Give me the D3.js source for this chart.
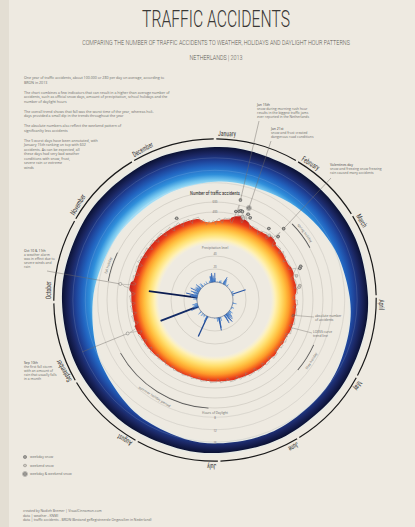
<!DOCTYPE html>
<html>
<head>
<meta charset="utf-8">
<script src="https://cdn.jsdelivr.net/npm/d3@7"></script>
<style>
  html, body { margin: 0; padding: 0; background: #eeeae1; }
  svg { display: block; }
  .cond { font-family: "Roboto Condensed", "Liberation Sans Narrow", "Roboto", sans-serif; }
  .light { font-family: "Roboto", "Open Sans", sans-serif; font-weight: 300; }
  .small { font-family: "Open Sans", "Roboto", sans-serif; fill: #6a6a6a; }
</style>
</head>
<body>
<svg id="chart" width="415" height="527"></svg>
<script>
// ---- data (2013) ----
const months = ['January', 'February', 'March', 'April', 'May', 'June', 'July', 'August', 'September', 'October', 'November', 'December'];
const monthDays = [31, 28, 31, 30, 31, 30, 31, 31, 30, 31, 30, 31];

// daily number of traffic accidents, per month
const accJan = [150,240,265,270,215,180,285,290,280,295,300,230,210,360,602,380,400,390,300,270,500,380,340,330,320,260,220,300,295,290,300];
const accFeb = [300,240,200,300,310,320,330,340,250,230,330,360,320,520,330,240,210,280,290,300,295,310,250,220,320,300,290,295];
const accMar = [300,240,200,290,285,290,280,295,235,230,380,350,320,300,305,240,210,290,295,300,290,310,260,240,310,295,290,300,260,220,190];
const accApr = [190,290,285,290,300,230,200,285,280,290,285,300,235,205,280,285,290,295,305,240,210,285,280,290,285,300,230,200,270,210];
const accMay = [270,275,285,220,195,275,270,280,200,250,225,200,280,285,290,285,300,235,200,205,285,290,295,300,240,210,290,295,290,300,305];
const accJun = [245,215,290,285,290,295,310,250,220,290,285,280,290,305,245,225,290,295,300,300,310,250,220,285,280,285,290,305,245,215];
const accJul = [285,280,285,290,300,245,220,275,270,275,280,290,240,215,265,260,265,270,280,235,210,260,255,260,265,275,240,230,255,250,255];
const accAug = [260,270,225,205,255,250,255,260,270,225,205,260,255,260,265,275,230,210,275,280,285,290,300,240,215,295,300,305,300,315,250];
const accSep = [220,310,305,310,315,325,255,225,320,470,330,325,335,265,235,320,325,320,330,340,260,230,320,315,320,325,340,265,235,330];
const accOct = [330,335,340,350,270,240,340,345,350,480,520,280,250,330,325,330,335,345,265,235,325,330,335,340,350,270,245,370,345,340,345];
const accNov = [355,275,245,345,340,345,350,360,280,245,345,340,345,350,365,280,250,345,340,350,345,360,275,245,335,340,335,340,355,270];
const accDec = [240,330,325,330,350,345,270,240,325,330,325,330,345,270,235,320,315,320,325,330,250,215,270,240,150,170,220,195,180,230,220];

// daily precipitation (mm), per month
const rainJan = [6,0,0.5,0,0,0.3,0,1,0,0,0,0,0,2,3,0.5,1,4,2,0,1,0.5,0,0,0,0,5,8,12,6,9];
const rainFeb = [4,6,1,3,2,0,0.5,0,1,3,4,0,0,1,0,0,0,0,0,0,0,0,0,0,0.5,0,0,0];
const rainMar = [0,0,0,0,0,0.5,3,4,2,1,0,0,0.5,22,0,0,0,3,2,0,0,0,0,0,0,0,0,0,0,0,0];
const rainApr = [0,0,0,0,0,0,0,0,0,0,2,6,1,0,0,0,0.5,1,0,0,0,0,0,0,3,4,0.5,0,1,2];
const rainMay = [0,0,0,0,0,0,0,2,6,3,1,4,5,0,2,8,10,5,3,12,6,8,4,15,12,9,0,0,6,11,14];
const rainJun = [4,0,0,0,0,0,0,0,0,0,0,0,1,6,3,0,0,8,16,20,6,2,1,0.5,6,1,0,0,0,0];
const rainJul = [0,0.5,1,0,0,0,0,0,0,0,0,0,0,0,0,0,0,0,0,0,0,0,0,3,0,0,34,10,9,2,0];
const rainAug = [0,0,0,0,4,2,0,0,3,0,0,1,5,2,0,0,0,0,0,2,6,3,0,0,0,0,0,0,0,0,0];
const rainSep = [0,0,0,0,0,1,12,3,8,62,6,9,4,3,7,5,2,0,8,4,0,0,0,0,0,0,0,0,1,0];
const rainOct = [0,0,2,6,1,0,1,2,75,10,6,12,9,3,18,4,0,6,1,2,8,12,4,6,2,0,4,14,3,5,8];
const rainNov = [2,6,5,8,3,4,7,2,4,10,6,1,0,0,0,2,6,1,4,6,2,0,0,0,0,0,0,3,2,0];
const rainDec = [0,0,0,0,4,1,0,0,0,0,0,0,0,2,3,1,2,4,9,10,6,8,12,14,7,4,10,6,4,3,14];

// hours of daylight
const daylightDates = ['01-01','01-15','02-01','02-15','03-01','03-15','04-01','04-15','05-01','05-15','06-01','06-15',
                       '07-01','07-15','08-01','08-15','09-01','09-15','10-01','10-15','11-01','11-15','12-01','12-15'];
const daylightHours = [8.3, 8.6, 9.2, 10.2, 11.3, 12.4, 13.6, 14.5, 15.4, 15.9, 16.3, 16.5,
                       16.4, 16.0, 15.0, 13.8, 12.3, 10.9, 9.6, 8.6, 7.9, 7.5, 7.5, 7.8];

// official snow days (0 weekday, 1 weekend, 2 weekday & weekend)
const snowDates = ['01-14','01-15','01-16','01-17','01-18','01-19','01-20','01-21','01-22','01-24','02-07','02-10','02-14','02-15','03-11','03-12','03-16','03-23','03-24','12-06'];
const snowTypes = [0,0,0,0,0,1,1,2,0,0,0,1,0,0,0,0,1,1,1,0];

// school holidays
const holidayNames = ['spring holiday', 'May holiday', 'summer holiday period', 'fall holiday'];
const holidayStart = ['02-16', '04-27', '07-06', '10-12'];
const holidayEnd = ['03-03', '05-12', '09-01', '10-27'];

// annotated worst days
const annoDates = ['01-15', '01-21', '02-14', '10-11', '09-10'];
const annoTitles = ['Jan 15th', 'Jan 21st', 'Valentines day', 'Oct 10 & 11th', 'Sep 10th'];
const annoTexts = [
  ['snow during morning rush hour', 'results in the biggest traffic jams', 'ever reported in the Netherlands'],
  ['snow and frost created', 'dangerous road conditions'],
  ['snow and freezing snow freezing', 'rain caused many accidents'],
  ['a weather alarm', 'was in effect due to', 'severe winds and', 'rain'],
  ['the first fall storm', 'with an amount of', 'rain that usually falls', 'in a month']
];

const introText = [
  ['One year of traffic accidents, about 100.000 or 280 per day on average, according to', 'BRON in 2013'],
  ['The chart combines a few indicators that can result in a higher than average number of', 'accidents, such as official snow days, amount of precipitation, school holidays and the', 'number of daylight hours'],
  ['The overall trend shows that fall was the worst time of the year, whereas holi-', 'days provided a small dip in the trends throughout the year'],
  ['The absolute numbers also reflect the weekend pattern of', 'significanlty less accidents'],
  ['The 5 worst days have been annotated, with', 'January 15th ranking on top with 602', 'accidents. As can be expected, all', 'these days had very bad weather', 'conditions with snow, frost,', 'severe rain or extreme', 'winds']
];
const legendLabels = ['weekday snow', 'weekend snow', 'weekday & weekend snow'];
const credits = ['created by Nadieh Bremer | VisualCinnamon.com', 'data | weather - KNMI', 'data | traffic accidents - BRON (Bestand geRegistreerde Ongevallen in Nederland)'];

// ---- setup ----
const accidents = [].concat(accJan, accFeb, accMar, accApr, accMay, accJun, accJul, accAug, accSep, accOct, accNov, accDec);
const rain = [].concat(rainJan, rainFeb, rainMar, rainApr, rainMay, rainJun, rainJul, rainAug, rainSep, rainOct, rainNov, rainDec);
const nDays = accidents.length;

const parse = d3.timeParse('%Y-%m-%d');
const yearStart = new Date(2013, 0, 1);
const doy = s => d3.timeDay.count(yearStart, parse('2013-' + s));

const cx = 215, cy = 300;
const aScale = d3.scaleLinear().domain([0, 365]).range([0, 2 * Math.PI]);
const rScale = d3.scaleLinear().domain([0, 600]).range([68, 98]);
const pScale = d3.scaleLinear().domain([0, 40]).range([18, 44]);
const hScale = d3.scaleLinear().domain([0, 24]).range([92.5, 167]);
const bandOuter = 153;
const rainColor = d3.scaleLinear().domain([0, 15, 60]).range(['#5b9be0', '#2a5cb0', '#132c68']);

function pt(a, r) { return [r * Math.sin(a), -r * Math.cos(a)]; }
const deg = a => a * 180 / Math.PI;

// squeeze a centered text to a given width
function fitText(sel, x, y, width) {
  const w = sel.node().getComputedTextLength();
  sel.attr('text-anchor', 'middle').attr('transform', `translate(${x},${y}) scale(${width / w},1)`);
}

// 7 day centered trend (year wraps)
const trend = accidents.map((d, i) => d3.mean(d3.range(-3, 4), k => accidents[(i + k + nDays) % nDays]));

const svg = d3.select('#chart');
svg.append('rect').attr('width', 415).attr('height', 527).attr('fill', '#eeeae1');
svg.append('rect').attr('x', 0).attr('y', 0).attr('width', 9).attr('height', 527).attr('fill', '#e3ded3');

const defs = svg.append('defs');
let bg = defs.append('radialGradient').attr('id', 'blueGrad').attr('gradientUnits', 'userSpaceOnUse')
  .attr('cx', 0).attr('cy', 0).attr('r', bandOuter);
[[0.75, '#b8e7f8'], [0.785, '#74c6ef'], [0.82, '#2f8fdb'], [0.87, '#2264c0'], [0.915, '#1e3f94'], [0.955, '#1b2764'], [1, '#0b1133']]
  .forEach(s => bg.append('stop').attr('offset', s[0]).attr('stop-color', s[1]));
let ag = defs.append('radialGradient').attr('id', 'accGrad').attr('gradientUnits', 'userSpaceOnUse')
  .attr('cx', 0).attr('cy', 0).attr('r', 98);
[[0.57, '#fff6d0', 0], [0.62, '#fff0b0', 1], [0.67, '#ffe070', 1], [0.72, '#ffc040', 1], [0.76, '#fd9a2a', 1], [0.79, '#f66a20', 1], [0.82, '#e63a1c', 1], [0.87, '#c9221a', 1], [1, '#b3151a', 1]]
  .forEach(s => ag.append('stop').attr('offset', s[0]).attr('stop-color', s[1]).attr('stop-opacity', s[2]));
defs.append('filter').attr('id', 'glow').attr('x', '-20%').attr('y', '-20%').attr('width', '140%').attr('height', '140%')
  .append('feGaussianBlur').attr('stdDeviation', 1.6);

const g = svg.append('g').attr('transform', `translate(${cx},${cy})`);

// grey grid circles
const gridR = [pScale(20), pScale(40), rScale(400), rScale(600), 108].concat([8, 12, 16].map(h => hScale(h)));
g.selectAll('circle.grid').data(gridR).join('circle').attr('class', 'grid')
  .attr('r', d => d).attr('fill', 'none').attr('stroke', '#b9b5ad').attr('stroke-width', 0.45);

// blue band (hours of darkness)
const dayPts = daylightDates.map((d, i) => ({ day: doy(d), h: daylightHours[i] }));
const band = d3.areaRadial()
  .angle(d => aScale(d.day))
  .innerRadius(d => hScale(d.h))
  .outerRadius(bandOuter)
  .curve(d3.curveCardinalClosed);
g.append('path').attr('d', band(dayPts)).attr('fill', '#cdeaf6').attr('opacity', 0.6).attr('filter', 'url(#glow)');
g.append('path').attr('d', band(dayPts)).attr('fill', 'url(#blueGrad)');
g.selectAll('circle.dl').data([8, 12, 16]).join('circle').attr('class', 'dl')
  .attr('r', d => hScale(d)).attr('fill', 'none').attr('stroke', '#ffffff').attr('stroke-opacity', 0.3).attr('stroke-width', 0.4);

// month ring
const monthStart = d3.cumsum([0].concat(monthDays)).slice(0, 12);
const monthArc = d3.arc().innerRadius(160.6).outerRadius(161.8);
g.selectAll('path.month').data(months).join('path').attr('class', 'month')
  .attr('d', (m, i) => monthArc({ startAngle: aScale(monthStart[i]) + 0.008, endAngle: aScale(monthStart[i] + monthDays[i]) - 0.008 }))
  .attr('fill', '#1a1a1a');
g.selectAll('text.month').data(months).join('text').attr('class', 'month cond')
  .attr('transform', (m, i) => {
    const a = aScale(monthStart[i]) + 0.018;
    const p = pt(a, 164);
    return `translate(${p[0]},${p[1]}) rotate(${deg(a)}) scale(0.75,1)`;
  })
  .attr('font-size', 7.6).attr('fill', '#3a3a3a').text(m => m);

// school holidays
const holArc = d3.arc().innerRadius(108).outerRadius(108.8);
holidayNames.forEach((name, i) => {
  const a0 = aScale(doy(holidayStart[i])), a1 = aScale(doy(holidayEnd[i]) + 1);
  g.append('path').attr('d', holArc({ startAngle: a0, endAngle: a1 })).attr('fill', '#555');
  const am = (a0 + a1) / 2;
  const flip = am > Math.PI / 2 && am < 3 * Math.PI / 2;
  const p = pt(am, flip ? 112.5 : 111);
  g.append('text').attr('class', 'small')
    .attr('transform', `translate(${p[0]},${p[1]}) rotate(${deg(am) + (flip ? 180 : 0)})`)
    .attr('text-anchor', 'middle').attr('dy', flip ? '0.8em' : '0em')
    .attr('font-size', 3.4).attr('fill', '#555').text(name);
});

// accidents: trend area and daily line
const area = d3.areaRadial()
  .angle((d, i) => aScale(i + 0.5))
  .innerRadius(56)
  .outerRadius(d => rScale(d))
  .curve(d3.curveCatmullRomClosed);
g.append('path').attr('d', area(trend)).attr('fill', 'url(#accGrad)');
const line = d3.lineRadial()
  .angle((d, i) => aScale(i + 0.5))
  .radius(d => rScale(d))
  .curve(d3.curveLinearClosed);
g.append('path').attr('d', line(accidents)).attr('fill', 'none').attr('stroke', '#8a8580').attr('stroke-width', 0.4);

// precipitation
g.selectAll('line.rain').data(rain.map((v, i) => ({ v, i })).filter(d => d.v > 0)).join('line').attr('class', 'rain')
  .attr('x1', d => pt(aScale(d.i + 0.5), pScale(0))[0]).attr('y1', d => pt(aScale(d.i + 0.5), pScale(0))[1])
  .attr('x2', d => pt(aScale(d.i + 0.5), pScale(d.v))[0]).attr('y2', d => pt(aScale(d.i + 0.5), pScale(d.v))[1])
  .attr('stroke', d => rainColor(d.v)).attr('stroke-width', d => 0.6 + Math.min(d.v, 60) / 50);
g.append('circle').attr('r', pScale(0)).attr('fill', 'none').attr('stroke', '#3b4a6e').attr('stroke-width', 0.5);

// axis labels inside
const accTitle = g.append('text').attr('class', 'cond').attr('font-size', 6).attr('fill', '#333').text('Number of traffic accidents');
fitText(accTitle, 0, -105, 50);
[400, 600].forEach(v => g.append('text').attr('class', 'small').attr('x', 0).attr('y', -rScale(v) + 1.2)
  .attr('text-anchor', 'middle').attr('font-size', 2.8).text(v));
g.append('text').attr('class', 'small').attr('x', 0).attr('y', -51).attr('text-anchor', 'middle')
  .attr('font-size', 3.2).attr('fill', '#555').text('Precipitation level');
[20, 40].forEach(v => g.append('text').attr('class', 'small').attr('x', 0).attr('y', -pScale(v) - 1.2)
  .attr('text-anchor', 'middle').attr('font-size', 2.8).text(v));
g.append('text').attr('class', 'small').attr('x', 0).attr('y', 114).attr('text-anchor', 'middle')
  .attr('font-size', 3.2).attr('fill', '#555').text('Hours of Daylight');
[8, 12, 16].forEach(h => g.append('text').attr('class', 'small').attr('x', 0).attr('y', hScale(h) + 2)
  .attr('text-anchor', 'middle').attr('font-size', 2.8).text(h));

// snow markers
const asterisk = d3.symbol().type(d3.symbolAsterisk).size(9);
snowDates.forEach((s, i) => {
  const day = doy(s);
  const p = pt(aScale(day + 0.5), rScale(accidents[day]) + 5);
  const mg = g.append('g').attr('transform', `translate(${p[0]},${p[1]})`);
  mg.append('circle').attr('r', 1.8).attr('fill', snowTypes[i] === 1 ? '#9a9690' : '#4a4a4a');
  mg.append('path').attr('d', asterisk()).attr('stroke', '#eeeae1').attr('stroke-width', 0.4);
  if (snowTypes[i] === 2) mg.append('circle').attr('r', 2.5).attr('fill', 'none').attr('stroke', '#4a4a4a').attr('stroke-width', 0.35);
});

// annotations
const annoPos = [[257, 106], [271, 130], [330, 166], [24, 252], [24, 364]];
const annoLead = [[259, 121], [271, 141], [331, 178], [47, 271], [82, 352]];
annoDates.forEach((s, i) => {
  const day = doy(s);
  const isSnow = snowDates.includes(s);
  const p = pt(aScale(day + 0.5), rScale(accidents[day]) + (isSnow ? 5 : 2));
  svg.append('line').attr('x1', annoLead[i][0]).attr('y1', annoLead[i][1])
    .attr('x2', cx + p[0]).attr('y2', cy + p[1]).attr('stroke', '#6f6b66').attr('stroke-width', 0.45);
  if (!isSnow) {
    svg.append('circle').attr('cx', cx + p[0]).attr('cy', cy + p[1]).attr('r', 1.5)
      .attr('fill', '#eeeae1').attr('stroke', '#555').attr('stroke-width', 0.4);
  }
  const t = svg.append('text').attr('class', 'small').attr('x', annoPos[i][0]).attr('y', annoPos[i][1]).attr('font-size', 3.4);
  t.append('tspan').attr('x', annoPos[i][0]).attr('fill', '#444').text(annoTitles[i]);
  annoTexts[i].forEach(l => t.append('tspan').attr('x', annoPos[i][0]).attr('dy', 3.9).text(l));
});

// chart element labels (right side)
const lab1 = pt(aScale(102.5), rScale(accidents[102]));
const lab2 = pt(aScale(111.5), rScale(trend[111]) - 1);
svg.append('line').attr('x1', cx + lab1[0]).attr('y1', cy + lab1[1]).attr('x2', 314).attr('y2', 317).attr('stroke', '#6f6b66').attr('stroke-width', 0.4);
svg.append('line').attr('x1', cx + lab2[0]).attr('y1', cy + lab2[1]).attr('x2', 312).attr('y2', 333).attr('stroke', '#6f6b66').attr('stroke-width', 0.4);
svg.append('circle').attr('cx', cx + lab1[0]).attr('cy', cy + lab1[1]).attr('r', 1.2).attr('fill', 'none').attr('stroke', '#555').attr('stroke-width', 0.4);
[['absolute number', 'of accidents', 315, 317], ['LOESS curve', 'trend line', 313, 333]].forEach(l => {
  const t = svg.append('text').attr('class', 'small').attr('x', l[2]).attr('y', l[3]).attr('font-size', 3.3);
  t.append('tspan').attr('x', l[2]).text(l[0]);
  t.append('tspan').attr('x', l[2]).attr('dy', 3.8).text(l[1]);
});

// titles
const title = svg.append('text').attr('class', 'light').attr('font-size', 23).attr('fill', '#3a3835').text('TRAFFIC ACCIDENTS');
fitText(title, 216, 27, 148);
const sub = svg.append('text').attr('class', 'light').attr('font-size', 7).attr('fill', '#5d5a55')
  .text('COMPARING THE NUMBER OF TRAFFIC ACCIDENTS TO WEATHER, HOLIDAYS AND DAYLIGHT HOUR PATTERNS');
fitText(sub, 216, 45, 268);
const place = svg.append('text').attr('class', 'light').attr('font-size', 7).attr('fill', '#5d5a55').text('NETHERLANDS | 2013');
fitText(place, 216, 60, 53);

// intro text
let yy = 79;
introText.forEach(par => {
  par.forEach(l => {
    svg.append('text').attr('class', 'small').attr('x', 24).attr('y', yy).attr('font-size', 3.6).text(l);
    yy += 4.5;
  });
  yy += 5.5;
});

// legend
legendLabels.forEach((l, i) => {
  const y = 457 + i * 8.5;
  const mg = svg.append('g').attr('transform', `translate(25,${y})`);
  mg.append('circle').attr('r', 1.8).attr('fill', i === 1 ? '#9a9690' : '#4a4a4a');
  mg.append('path').attr('d', asterisk()).attr('stroke', '#eeeae1').attr('stroke-width', 0.4);
  if (i === 2) mg.append('circle').attr('r', 2.5).attr('fill', 'none').attr('stroke', '#4a4a4a').attr('stroke-width', 0.35);
  svg.append('text').attr('class', 'small').attr('x', 30).attr('y', y + 1.2).attr('font-size', 3.4).text(l);
});

// credits
credits.forEach((c, i) => svg.append('text').attr('class', 'small').attr('x', 23).attr('y', 512 + i * 4.6).attr('font-size', 3.4).text(c));
</script>
</body>
</html>
